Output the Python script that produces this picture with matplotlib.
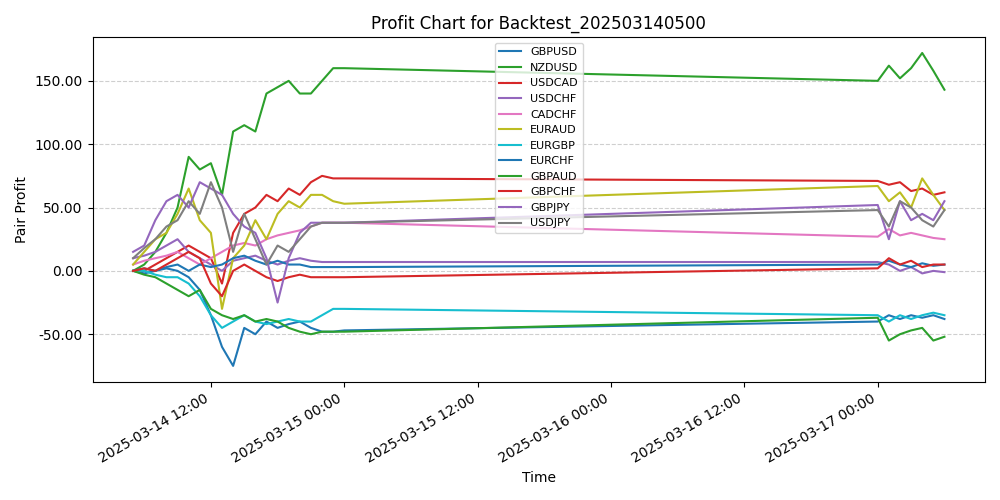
import pandas as pd
import matplotlib.pyplot as plt
import matplotlib.dates as mdates
from matplotlib.ticker import FormatStrFormatter

# horodatage : 14/03 05:00 -> 15/03 00:00, puis 17/03 00:00 -> 06:00
times = list(pd.date_range("2025-03-14 05:00", "2025-03-15 00:00", freq="h")) + \
        list(pd.date_range("2025-03-17 00:00", "2025-03-17 06:00", freq="h"))

pairs = ["GBPUSD", "NZDUSD", "USDCAD", "USDCHF", "CADCHF", "EURAUD",
         "EURGBP", "EURCHF", "GBPAUD", "GBPCHF", "GBPJPY", "USDJPY"]
couleurs = ["tab:blue", "tab:green", "tab:red", "tab:purple", "tab:pink", "tab:olive",
            "tab:cyan", "tab:blue", "tab:green", "tab:red", "tab:purple", "tab:gray"]

gbpusd = [0, -2, 0, 2, 0, -5, -15, -35, -60, -75, -45, -50, -40, -45, -42, -40, -45, -48, -48, -47,
          -40, -35, -38, -35, -37, -35, -38]
nzdusd = [0, 5, 15, 30, 50, 90, 80, 85, 60, 110, 115, 110, 140, 145, 150, 140, 140, 150, 160, 160,
          150, 162, 152, 160, 172, 158, 143]
usdcad = [0, 0, 5, 10, 15, 20, 15, 10, -10, 30, 45, 50, 60, 55, 65, 60, 70, 75, 73, 73,
          71, 68, 70, 63, 65, 60, 62]
usdchf = [10, 12, 15, 20, 25, 15, 10, 5, 0, 8, 10, 12, 8, 5, 8, 10, 8, 7, 7, 7,
          7, 5, 0, 3, -2, 0, -1]
cadchf = [5, 8, 10, 12, 15, 10, 5, 10, 15, 20, 22, 20, 25, 28, 30, 32, 35, 38, 38, 38,
          27, 33, 28, 30, 28, 26, 25]
euraud = [5, 15, 25, 30, 45, 65, 40, 30, -30, 10, 20, 40, 25, 45, 55, 50, 60, 60, 55, 53,
          67, 55, 62, 50, 73, 60, 48]
eurgbp = [0, 0, -3, -5, -5, -10, -20, -35, -45, -40, -35, -40, -42, -40, -38, -40, -40, -35, -30, -30,
          -35, -40, -35, -38, -35, -33, -35]
eurchf = [0, 2, 0, 3, 5, 0, 5, 3, 5, 10, 12, 8, 5, 8, 5, 5, 3, 3, 3, 3,
          5, 8, 5, 3, 6, 4, 5]
gbpaud = [0, -3, -5, -10, -15, -20, -15, -30, -35, -38, -35, -40, -38, -40, -45, -48, -50, -48, -48, -48,
          -37, -55, -50, -47, -45, -55, -52]
gbpchf = [0, 2, 0, 5, 10, 15, 10, -10, -20, 0, 5, 0, -5, -8, -5, -3, -5, -5, -5, -5,
          2, 10, 5, 8, 3, 5, 5]
gbpjpy = [15, 20, 40, 55, 60, 50, 70, 65, 60, 45, 35, 30, 10, -25, 10, 30, 38, 38, 38, 38,
          52, 25, 55, 40, 45, 40, 55]
usdjpy = [10, 18, 25, 35, 40, 55, 45, 70, 50, 15, 45, 25, 5, 20, 15, 25, 35, 38, 38, 38,
          48, 35, 55, 50, 40, 35, 48]

series = [gbpusd, nzdusd, usdcad, usdchf, cadchf, euraud,
          eurgbp, eurchf, gbpaud, gbpchf, gbpjpy, usdjpy]

fig, ax = plt.subplots(figsize=(10, 5), dpi=100)
for nom, valeurs, c in zip(pairs, series, couleurs):
    ax.plot(times, valeurs, label=nom, color=c, linewidth=1.5)

ax.set_title("Profit Chart for Backtest_202503140500")
ax.set_xlabel("Time")
ax.set_ylabel("Pair Profit")
ax.yaxis.set_major_formatter(FormatStrFormatter("%.2f"))
ax.xaxis.set_major_locator(mdates.HourLocator(byhour=[0, 12]))
ax.xaxis.set_major_formatter(mdates.DateFormatter("%Y-%m-%d %H:%M"))
ax.grid(True, axis="y", linestyle="--", alpha=0.6)
ax.legend(loc="upper center", fontsize=8)
fig.autofmt_xdate()
plt.tight_layout()
plt.savefig("out.png")
